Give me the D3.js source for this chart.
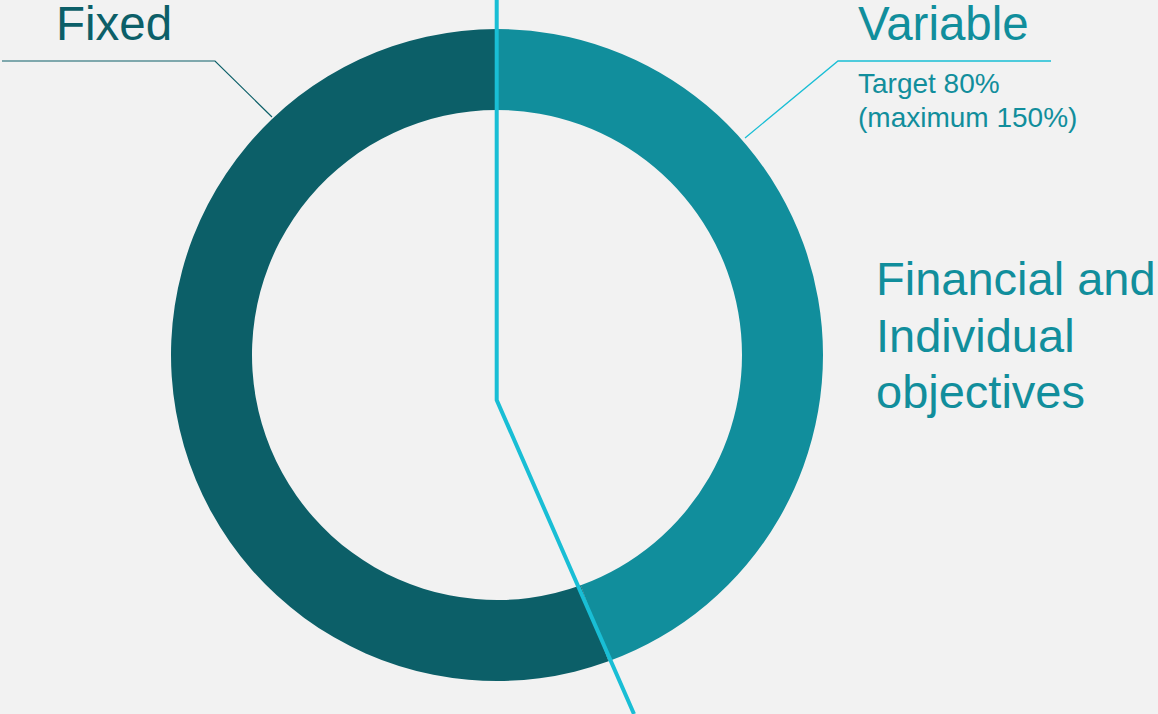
<!DOCTYPE html>
<html><head><meta charset="utf-8">
<script src="https://cdn.jsdelivr.net/npm/d3@7"></script>
<style>html,body{margin:0;padding:0;background:#F2F2F2;}svg{display:block;}</style>
</head><body>
<svg id="chart" width="1158" height="714"></svg>
<script>
const categories = ["Variable", "Fixed"];
const values = [80, 100];
const colors = ["#118E9C", "#0C5F68"];
const subLabels = ["Target 80%", "(maximum 150%)"];
const sideLabel = ["Financial and", "Individual", "objectives"];

const W = 1158, H = 714;
const cx = 497, cy = 355, rOuter = 326, rInner = 245;
const svg = d3.select("#chart");
svg.append("rect").attr("width", W).attr("height", H).attr("fill", "#F2F2F2");

const data = categories.map((c, i) => ({label: c, value: values[i], color: colors[i]}));
const pie = d3.pie().sort(null).value(d => d.value);
const arc = d3.arc().innerRadius(rInner).outerRadius(rOuter);
const g = svg.append("g").attr("transform", `translate(${cx},${cy})`);
g.selectAll("path").data(pie(data)).join("path")
  .attr("d", arc).attr("fill", d => d.data.color);

const font = "'Liberation Sans', Arial, sans-serif";
const lightBlue = "#19BED5";

// leader lines
svg.append("polyline")
  .attr("points", "2,61 215,61 272,117")
  .attr("fill", "none").attr("stroke", "#0C5F68").attr("stroke-width", 1.2);
svg.append("polyline")
  .attr("points", "745,138 838,61 1051,61")
  .attr("fill", "none").attr("stroke", lightBlue).attr("stroke-width", 1.3);

// decorative line
svg.append("polyline")
  .attr("points", `${cx-0.3},0 ${cx-0.3},${cy+45} ${cx+137},${H}`)
  .attr("fill", "none").attr("stroke", lightBlue).attr("stroke-width", 4);

// labels
svg.append("text").attr("x", 56).attr("y", 40).text(categories[1])
  .attr("font-family", font).attr("font-size", 47.5).attr("fill", "#0C5F68");
svg.append("text").attr("x", 858).attr("y", 40).text(categories[0])
  .attr("font-family", font).attr("font-size", 47.5).attr("fill", "#118E9C");
subLabels.forEach((t, i) => {
  svg.append("text").attr("x", 858).attr("y", 93 + i * 34).text(t)
    .attr("font-family", font).attr("font-size", 28).attr("fill", "#118E9C");
});
sideLabel.forEach((t, i) => {
  svg.append("text").attr("x", 876).attr("y", 295 + i * 56.5).text(t)
    .attr("font-family", font).attr("font-size", 47).attr("fill", "#118E9C");
});
</script>
</body></html>
